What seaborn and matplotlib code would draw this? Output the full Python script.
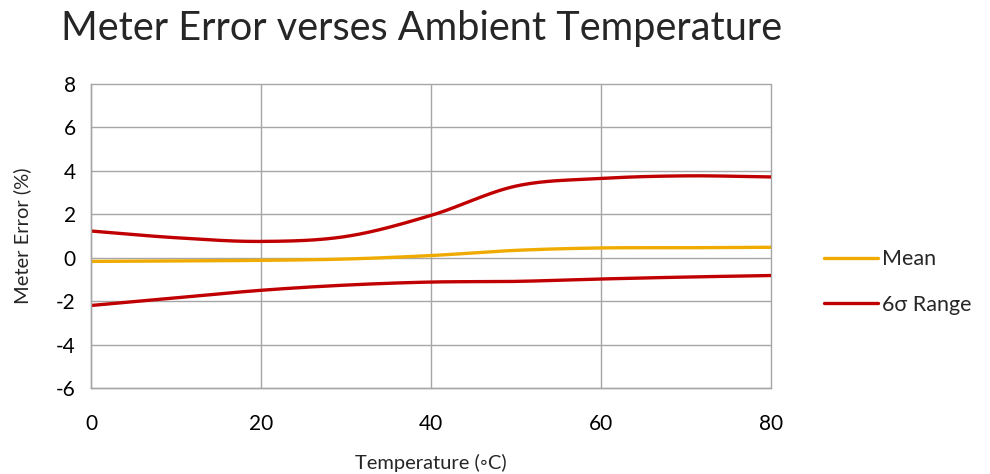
import numpy as np
import pandas as pd
import seaborn as sns
import matplotlib.pyplot as plt

# values
temps = [0, 10, 20, 30, 40, 50, 60, 70, 80]
mean_err = [-0.17, -0.15, -0.12, -0.06, 0.10, 0.34, 0.45, 0.46, 0.48]
upper_err = [1.23, 0.92, 0.75, 0.98, 1.95, 3.30, 3.65, 3.77, 3.72]
lower_err = [-2.20, -1.85, -1.50, -1.26, -1.12, -1.09, -0.98, -0.89, -0.82]
y_ticks = [-6, -4, -2, 0, 2, 4, 6, 8]
x_ticks = [0, 20, 40, 60, 80]


def smooth(x, y, n=30):
    # catmull-rom through the points, like excel's smoothed line
    x = np.asarray(x, float)
    y = np.asarray(y, float)
    px = np.concatenate([[2 * x[0] - x[1]], x, [2 * x[-1] - x[-2]]])
    py = np.concatenate([[2 * y[0] - y[1]], y, [2 * y[-1] - y[-2]]])
    xs, ys = [], []
    t = np.linspace(0, 1, n, endpoint=False)
    for i in range(1, len(px) - 2):
        for p, out in ((px, xs), (py, ys)):
            p0, p1, p2, p3 = p[i - 1], p[i], p[i + 1], p[i + 2]
            out.extend(0.5 * (2 * p1 + (-p0 + p2) * t
                              + (2 * p0 - 5 * p1 + 4 * p2 - p3) * t ** 2
                              + (-p0 + 3 * p1 - 3 * p2 + p3) * t ** 3))
    xs.append(x[-1])
    ys.append(y[-1])
    return np.array(xs), np.array(ys)


sns.set_theme(style='white')
plt.rcParams['font.family'] = ['Lato', 'DejaVu Sans']
plt.rcParams['axes.unicode_minus'] = False

fig = plt.figure(figsize=(9.9, 4.74), dpi=100)
ax = fig.add_axes([0.0919, 0.1814, 0.687, 0.6414])

mean_c = '#F0AB00'
red_c = '#C00000'

frames = []
for name, vals in [('Mean', mean_err), ('upper', upper_err), ('lower', lower_err)]:
    sx, sy = smooth(temps, vals)
    frames.append(pd.DataFrame({'temp': sx, 'err': sy, 'series': name}))
df = pd.concat(frames)

sns.lineplot(data=df, x='temp', y='err', hue='series', sort=False,
             palette={'Mean': mean_c, 'upper': red_c, 'lower': red_c},
             linewidth=2.4, legend=False, ax=ax)

ax.set_xlim(0, 80)
ax.set_ylim(-6, 8)
ax.set_xticks(x_ticks)
ax.set_yticks(y_ticks)
ax.grid(True, color='#A6A6A6', linewidth=1)
for g in ax.get_xgridlines() + ax.get_ygridlines():
    g.set_clip_on(False)
for s in ['top', 'right']:
    ax.spines[s].set_visible(False)
for s in ['left', 'bottom']:
    ax.spines[s].set_color('#A6A6A6')
    ax.spines[s].set_linewidth(1)
ax.tick_params(axis='both', which='major', direction='out', length=5, width=1,
               color='#A6A6A6', labelsize=15, labelcolor='black', pad=6)
ax.tick_params(axis='x', pad=14)

ax.set_xlabel('Temperature (◦C)', fontsize=14.5, labelpad=14)
ax.set_ylabel('Meter Error (%)', fontsize=14.5, labelpad=18)
fig.text(0.426, 0.94, 'Meter Error verses Ambient Temperature', fontsize=28.5,
         ha='center', va='center')

handles = [plt.Line2D([], [], color=mean_c, linewidth=2.4),
           plt.Line2D([], [], color=red_c, linewidth=2.4)]
fig.legend(handles, ['Mean', '6σ Range'], loc='center left',
           bbox_to_anchor=(0.813, 0.405), frameon=False, fontsize=15.5,
           handlelength=2.5, handletextpad=0.2, labelspacing=1.2)

plt.savefig('out.png', dpi=100)
